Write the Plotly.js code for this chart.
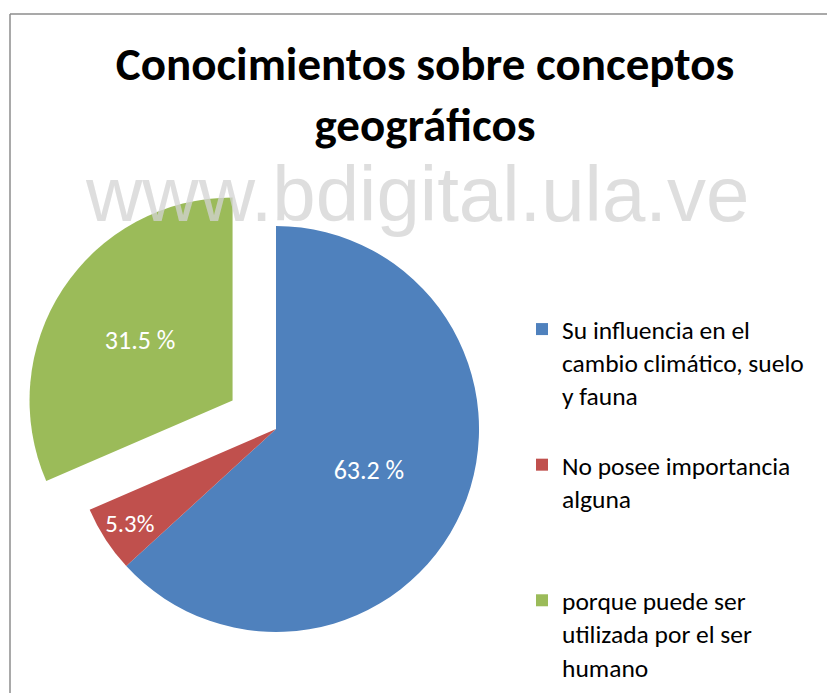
<!DOCTYPE html>
<html>
<head>
<meta charset="utf-8">
<script src="https://cdn.plot.ly/plotly-3.0.1.min.js"></script>
<style>
html,body{margin:0;padding:0;background:#fff;}
#chart{width:827px;height:693px;}
</style>
</head>
<body>
<div id="chart"></div>
<script>
var categories = [
  "Su influencia en el<br>cambio climático, suelo<br>y fauna<br> ",
  "No posee importancia<br>alguna<br> <br> ",
  "porque puede ser<br>utilizada por el ser<br>humano"
];
var values = [63.2, 5.3, 31.5];
var valueLabels = ["63.2 %", "5.3%", "31.5 %"];
var colors = ["#4F81BD", "#C0504D", "#9BBB59"];
var pulls = [0, 0, 0.256];

var W = 827, H = 693;
var FONT = "Carlito, Lato, 'Open Sans', sans-serif";

var trace = {
  type: "pie",
  labels: categories,
  values: values,
  text: valueLabels,
  textinfo: "text",
  textposition: "inside",
  insidetextorientation: "horizontal",
  textfont: {family: FONT, size: 26, color: "#ffffff"},
  marker: {colors: colors, line: {width: 0}},
  pull: pulls,
  sort: false,
  direction: "clockwise",
  rotation: 0,
  hoverinfo: "none",
  domain: {x: [21 / W, 531 / W], y: [1 - 684 / H, 1 - 174 / H]}
};

var layout = {
  width: W,
  height: H,
  margin: {l: 0, r: 0, t: 0, b: 0, autoexpand: false},
  paper_bgcolor: "#ffffff",
  font: {family: FONT, color: "#000000"},
  title: {
    text: "<b>Conocimientos sobre conceptos<br>geográficos</b>",
    font: {family: FONT, size: 47, color: "#000000"},
    x: 425 / W,
    xanchor: "center",
    xref: "paper",
    y: 1 - 80 / H,
    yref: "container",
    yanchor: "top"
  },
  showlegend: true,
  legend: {
    x: 522 / W,
    xanchor: "left",
    y: 1 - 306 / H,
    yanchor: "top",
    valign: "top",
    font: {family: FONT, size: 25.5, color: "#000000"},
    bgcolor: "rgba(0,0,0,0)",
    tracegroupgap: 0
  },
  annotations: [{
    text: "www.bdigital.ula.ve",
    xref: "paper", yref: "paper",
    x: 417 / W, y: 1 - 194 / H,
    xanchor: "center", yanchor: "middle",
    showarrow: false,
    font: {family: "Liberation Sans, Arial, sans-serif", size: 78, color: "#d4d4d4"},
    opacity: 0.75
  }],
  shapes: [
    {type: "line", xref: "paper", yref: "paper", x0: 10 / W, x1: 10 / W, y0: 0, y1: 1 - 14 / H, line: {color: "#8c8c8c", width: 1.5}},
    {type: "line", xref: "paper", yref: "paper", x0: 10 / W, x1: 1, y0: 1 - 14 / H, y1: 1 - 14 / H, line: {color: "#8c8c8c", width: 1.5}}
  ]
};

Plotly.newPlot("chart", [trace], layout, {displayModeBar: false, staticPlot: true});
</script>
</body>
</html>
